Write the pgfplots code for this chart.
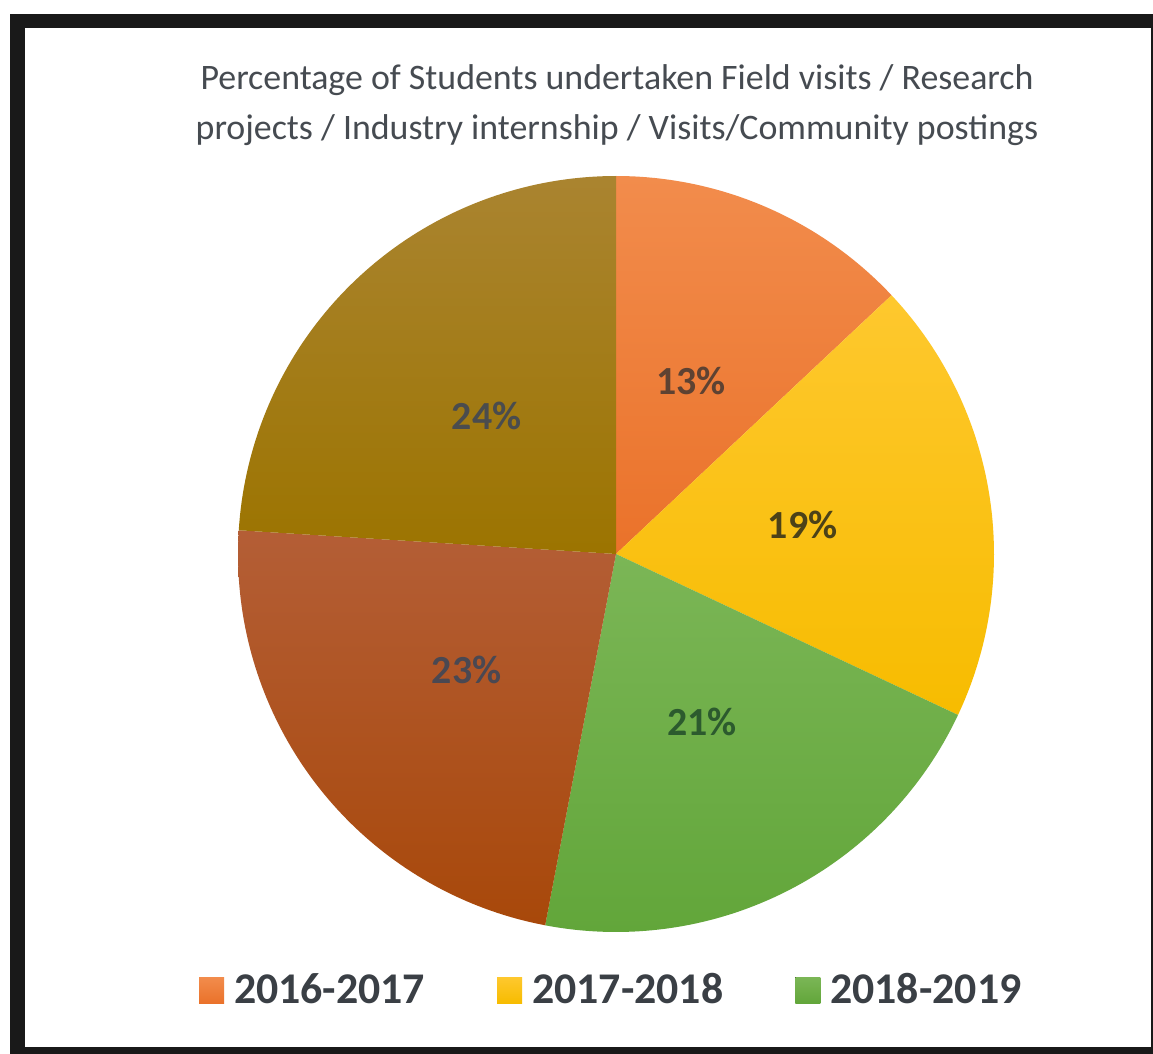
\documentclass[border=0pt]{standalone}
\usepackage{pgfplots}
\pgfplotsset{compat=1.18}
\usepackage{fontspec}
\setmainfont{Carlito}
\definecolor{cAt}{HTML}{F28C4C}
\definecolor{cAb}{HTML}{EA722A}
\definecolor{cBt}{HTML}{FEC82E}
\definecolor{cBb}{HTML}{F7BC00}
\definecolor{cCt}{HTML}{7BB656}
\definecolor{cCb}{HTML}{62A63A}
\definecolor{cDt}{HTML}{B45E36}
\definecolor{cDb}{HTML}{A8480A}
\definecolor{cEt}{HTML}{AA8430}
\definecolor{cEb}{HTML}{9C7400}
\definecolor{titlegray}{HTML}{464B51}
\definecolor{leggray}{HTML}{3A3F45}
\definecolor{lA}{HTML}{5E4232}
\definecolor{lB}{HTML}{4C4218}
\definecolor{lC}{HTML}{2C5A2E}
\definecolor{lD}{HTML}{4A4852}
\definecolor{lE}{HTML}{4A4C4E}
% slice values (percent), clockwise from 12 o'clock
\pgfmathsetmacro\vA{13}
\pgfmathsetmacro\vB{19}
\pgfmathsetmacro\vC{21}
\pgfmathsetmacro\vD{23}
\pgfmathsetmacro\vE{24}
\pgfmathsetmacro\aA{90}
\pgfmathsetmacro\aB{\aA-3.6*\vA}
\pgfmathsetmacro\aC{\aB-3.6*\vB}
\pgfmathsetmacro\aD{\aC-3.6*\vC}
\pgfmathsetmacro\aE{\aD-3.6*\vD}
\pgfmathsetmacro\aF{\aE-3.6*\vE}
\pgfmathsetmacro\mA{(\aA+\aB)/2}
\pgfmathsetmacro\mB{(\aB+\aC)/2}
\pgfmathsetmacro\mC{(\aC+\aD)/2}
\pgfmathsetmacro\mD{(\aD+\aE)/2}
\pgfmathsetmacro\mE{(\aE+\aF)/2}
\begin{document}
\begin{tikzpicture}
\fill[white] (0bp,0bp) rectangle (576.5bp,527bp);
\fill[black!90] (5bp,0bp) rectangle (576.5bp,520bp);
\fill[white] (12.5bp,3.5bp) rectangle (575.5bp,513bp);
\node[font=\fontsize{18}{25}\selectfont, text=titlegray, align=center] at (308.5bp,474.5bp)
  {Percentage of Students undertaken Field visits / Research\\projects / Industry internship / Visits/Community postings};
\begin{axis}[at={(308bp,250bp)}, anchor=center, width=378bp, height=378bp, scale only axis,
  hide axis, xmin=-1, xmax=1, ymin=-1, ymax=1, clip=false,
  legend columns=3,
  legend style={at={(0.495,-0.077)}, anchor=center, draw=none, fill=none,
    font=\fontsize{22}{22}\selectfont\bfseries, text=leggray,
    /tikz/every odd column/.append style={column sep=3bp},
    /tikz/every even column/.append style={column sep=34bp}},
  legend image code/.code={\fill[#1] (0bp,-6.5bp) rectangle (12.5bp,6.5bp);}]
\addplot[top color=cAt, bottom color=cAb, draw=none, domain=\aB:\aA, samples=80] ({cos(x)},{sin(x)}) -- (axis cs:0,0) -- cycle;
\addlegendentry{2016-2017}
\addplot[top color=cBt, bottom color=cBb, draw=none, domain=\aC:\aB, samples=80] ({cos(x)},{sin(x)}) -- (axis cs:0,0) -- cycle;
\addlegendentry{2017-2018}
\addplot[top color=cCt, bottom color=cCb, draw=none, domain=\aD:\aC, samples=80] ({cos(x)},{sin(x)}) -- (axis cs:0,0) -- cycle;
\addlegendentry{2018-2019}
\addplot[top color=cDt, bottom color=cDb, draw=none, domain=\aE:\aD, samples=80, forget plot] ({cos(x)},{sin(x)}) -- (axis cs:0,0) -- cycle;
\addplot[top color=cEt, bottom color=cEb, draw=none, domain=\aF:\aE, samples=80, forget plot] ({cos(x)},{sin(x)}) -- (axis cs:0,0) -- cycle;
\begin{scope}[font=\fontsize{20}{20}\selectfont\bfseries]
\node[text=lA] at (axis cs:{0.5*cos(\mA)},{0.5*sin(\mA)}) {13\%};
\node[text=lB] at (axis cs:{0.5*cos(\mB)},{0.5*sin(\mB)}) {19\%};
\node[text=lC] at (axis cs:{0.5*cos(\mC)},{0.5*sin(\mC)}) {21\%};
\node[text=lD] at (axis cs:{0.5*cos(\mD)},{0.5*sin(\mD)}) {23\%};
\node[text=lE] at (axis cs:{0.5*cos(\mE)},{0.5*sin(\mE)}) {24\%};
\end{scope}
\end{axis}
\end{tikzpicture}
\end{document}
